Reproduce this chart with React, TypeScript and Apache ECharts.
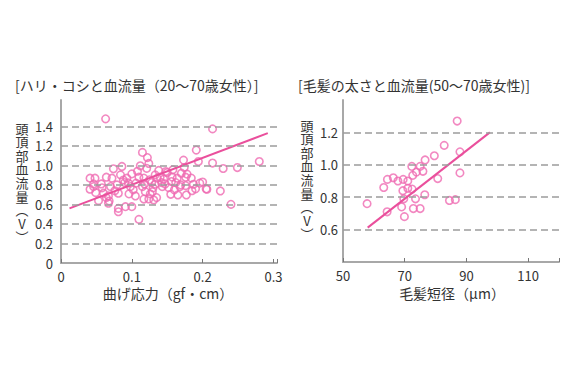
import React, { useEffect, useRef } from "react";
import * as echarts from "echarts";

const FONT = '"Noto Sans CJK JP", "Noto Sans", sans-serif';

const leftTitle = "[ハリ・コシと血流量（20〜70歳女性）]";
const rightTitle = "[毛髪の太さと血流量(50〜70歳女性)]";
const yNameChars = ["頭", "頂", "部", "血", "流", "量", "︵", "V", "︶"];
const leftXName = "曲げ応力（gf・cm）";
const rightXName = "毛髪短径（μm）";

// 曲げ応力 (gf·cm) vs 頭頂部血流量 (V)
const leftPoints: [number, number][] = [
  [0.063, 1.477],
  [0.074, 0.965], [0.086, 0.989],
  [0.048, 0.869], [0.064, 0.879], [0.072, 0.869], [0.084, 0.903], [0.093, 0.869], [0.1, 0.913],
  [0.041, 0.869], [0.041, 0.756], [0.046, 0.81], [0.046, 0.783], [0.057, 0.81], [0.07, 0.783],
  [0.079, 0.8], [0.09, 0.824], [0.098, 0.783], [0.106, 0.818],
  [0.049, 0.721], [0.06, 0.715], [0.067, 0.687], [0.081, 0.715], [0.096, 0.708], [0.105, 0.687],
  [0.053, 0.639], [0.067, 0.612], [0.068, 0.635],
  [0.081, 0.56], [0.081, 0.525], [0.091, 0.577], [0.1, 0.577],
  [0.11, 0.447], [0.11, 0.879],
  [0.115, 1.133], [0.122, 1.08], [0.124, 1.02], [0.112, 0.996], [0.121, 0.97],
  [0.117, 0.87], [0.125, 0.852], [0.118, 0.81], [0.115, 0.783], [0.119, 0.731], [0.129, 0.731],
  [0.117, 0.655], [0.124, 0.656], [0.128, 0.824], [0.126, 0.708], [0.131, 0.646],
  [0.133, 0.903], [0.136, 0.869], [0.14, 0.879], [0.145, 0.859], [0.138, 0.948], [0.148, 0.937],
  [0.158, 0.955], [0.15, 0.927], [0.156, 0.834], [0.164, 0.869], [0.133, 0.807], [0.142, 0.824],
  [0.143, 0.783], [0.152, 0.772], [0.16, 0.749], [0.168, 0.783], [0.176, 0.793], [0.162, 0.824],
  [0.187, 0.807], [0.196, 0.818], [0.206, 0.756], [0.225, 0.738], [0.24, 0.601], [0.135, 0.67],
  [0.155, 0.704], [0.165, 0.697], [0.177, 0.697],
  [0.173, 1.054], [0.174, 0.978], [0.178, 0.91], [0.184, 0.87], [0.191, 1.157], [0.194, 1.04],
  [0.214, 1.024], [0.229, 0.968], [0.249, 0.978], [0.214, 1.374], [0.28, 1.04], [0.205, 0.759],
  [0.169, 0.8], [0.176, 0.879], [0.058, 0.77], [0.076, 0.74], [0.088, 0.85], [0.102, 0.75],
  [0.108, 0.94], [0.13, 0.77], [0.147, 0.81], [0.157, 0.88], [0.17, 0.92], [0.19, 0.76],
  [0.2, 0.83], [0.185, 0.74], [0.095, 0.82], [0.064, 0.67],
];
const leftTrend: [number, number][] = [[0.012, 0.56], [0.292, 1.33]];

// 毛髪短径 (µm) vs 頭頂部血流量 (V)
const rightPoints: [number, number][] = [
  [57.8, 0.76], [63.2, 0.86], [64.4, 0.91], [66.3, 0.92], [67.8, 0.9], [69.5, 0.91], [71, 0.9],
  [64.3, 0.71], [69, 0.74], [69.9, 0.68], [69.4, 0.84], [71, 0.855], [72.4, 0.85], [69.7, 0.79],
  [73.5, 0.79], [76.5, 0.815], [72.8, 0.73], [75, 0.73], [72.6, 0.935], [73.8, 0.955], [75.9, 0.96],
  [72.3, 0.99], [75, 0.99], [76.6, 1.03], [79.6, 1.056], [82.8, 1.12], [87, 1.27], [87.9, 1.08],
  [87.9, 0.95], [80.7, 0.915], [84.5, 0.78], [86.4, 0.785],
];
const rightTrend: [number, number][] = [[58, 0.612], [97.6, 1.2]];

const leftXTicks = { min: 0, max: 0.305, interval: 0.1 };
const leftYTicks = { min: 0, max: 1.67, interval: 0.2 };
const rightXTicks = { min: 50, max: 120, interval: 20 };
const rightYTicks = { min: 0.4, max: 1.4, interval: 0.2 };
const leftGridValues = [0.2, 0.4, 0.6, 0.8, 1.0, 1.2, 1.4];
const rightGridValues = [0.6, 0.8, 1.0, 1.2];

const POINT = "#ef6ab2";
const LINE = "#ea4f9c";
const AXIS = "#a8a8a8";
const GRIDLINE = "#9c9c9c";
const TEXT = "#333";

function axisLabel(formatter: (v: number) => string) {
  return { formatter, fontSize: 13, color: TEXT, fontFamily: FONT };
}

function verticalName(cx: number, top: number) {
  return yNameChars.map((ch, i) => ({
    type: "text",
    x: cx,
    y: top + i * 13.6,
    style: { text: ch, fontSize: 13, fill: TEXT, fontFamily: FONT, align: "center", verticalAlign: "middle" },
  }));
}

export default function App() {
  const ref = useRef<HTMLDivElement>(null);
  useEffect(() => {
    if (!ref.current) return;
    const chart = echarts.init(ref.current, undefined, { renderer: "svg" });
    const axisLine = { show: true, onZero: false, lineStyle: { color: AXIS, width: 2 } };
    const markLine = (vals: number[]) => ({
      silent: true,
      symbol: ["none", "none"],
      label: { show: false },
      lineStyle: { color: GRIDLINE, width: 1.5, type: [7, 4] },
      data: vals.map((v) => ({ yAxis: v })),
      animation: false,
    });
    chart.setOption({
      animation: false,
      backgroundColor: "#fff",
      textStyle: { fontFamily: FONT },
      grid: [
        { left: 61, top: 100, width: 216, height: 163 },
        { left: 343, top: 100, width: 216, height: 162 },
      ],
      xAxis: [
        {
          type: "value", gridIndex: 0, ...leftXTicks,
          axisLine,
          axisTick: { show: true, inside: true, length: 4, lineStyle: { color: "#777", width: 1 } },
          axisLabel: { ...axisLabel((v) => (v > 0.301 ? "" : v === 0 ? "0" : v.toFixed(1))), margin: 7 },
          splitLine: { show: false },
        },
        {
          type: "value", gridIndex: 1, ...rightXTicks,
          axisLine,
          axisTick: { show: true, inside: true, length: 4, lineStyle: { color: "#777", width: 1 } },
          axisLabel: { ...axisLabel((v) => (v > 115 ? "" : String(v))), margin: 7 },
          splitLine: { show: false },
        },
      ],
      yAxis: [
        {
          type: "value", gridIndex: 0, ...leftYTicks,
          axisLine,
          axisTick: { show: false },
          axisLabel: { ...axisLabel((v) => (v > 1.45 ? "" : v === 0 ? "0" : v.toFixed(1))), margin: 8 },
          splitLine: { show: false },
        },
        {
          type: "value", gridIndex: 1, ...rightYTicks,
          axisLine,
          axisTick: { show: false },
          axisLabel: { ...axisLabel((v) => (v < 0.5 || v > 1.3 ? "" : v.toFixed(1))), margin: 5 },
          splitLine: { show: false },
        },
      ],
      series: [
        {
          type: "scatter", xAxisIndex: 0, yAxisIndex: 0, data: leftPoints,
          symbol: "circle", symbolSize: 7.5,
          itemStyle: { color: "rgba(255,255,255,0)", borderColor: POINT, borderWidth: 1.6 },
          markLine: markLine(leftGridValues),
        },
        {
          type: "line", xAxisIndex: 0, yAxisIndex: 0, data: leftTrend,
          showSymbol: false, symbol: "none", lineStyle: { color: LINE, width: 2 },
        },
        {
          type: "scatter", xAxisIndex: 1, yAxisIndex: 1, data: rightPoints,
          symbol: "circle", symbolSize: 7.5,
          itemStyle: { color: "rgba(255,255,255,0)", borderColor: POINT, borderWidth: 1.6 },
          markLine: markLine(rightGridValues),
        },
        {
          type: "line", xAxisIndex: 1, yAxisIndex: 1, data: rightTrend,
          showSymbol: false, symbol: "none", lineStyle: { color: LINE, width: 2 },
        },
      ],
      graphic: [
        { type: "text", x: 15, y: 85, style: { text: leftTitle, fontSize: 14, fill: TEXT, fontFamily: FONT, align: "left", verticalAlign: "middle" } },
        { type: "text", x: 298, y: 85, style: { text: rightTitle, fontSize: 14, fill: TEXT, fontFamily: FONT, align: "left", verticalAlign: "middle" } },
        ...verticalName(22, 128),
        ...verticalName(307, 125),
        { type: "text", x: 168, y: 293, style: { text: leftXName, fontSize: 14, fill: TEXT, fontFamily: FONT, align: "center", verticalAlign: "middle" } },
        { type: "text", x: 452, y: 293, style: { text: rightXName, fontSize: 14, fill: TEXT, fontFamily: FONT, align: "center", verticalAlign: "middle" } },
      ],
    });
    return () => chart.dispose();
  }, []);
  return (
    <div
      ref={ref}
      style={{ position: "fixed", left: 0, top: 0, width: 580, height: 387, background: "#fff" }}
    />
  );
}
